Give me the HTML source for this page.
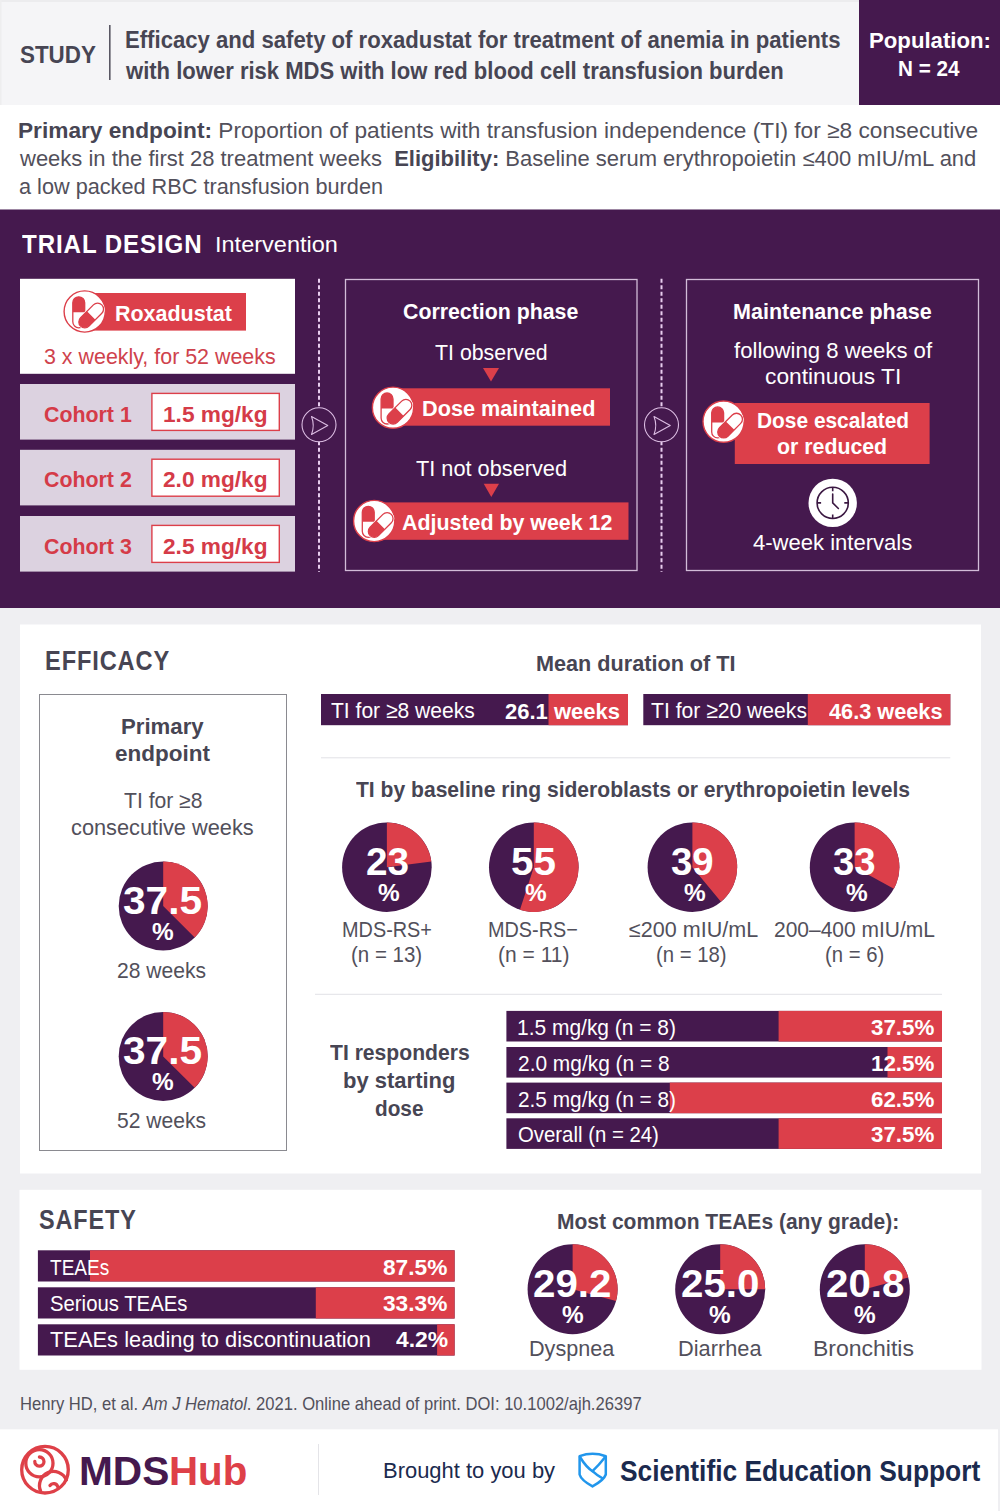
<!DOCTYPE html>
<html><head><meta charset="utf-8"><style>
html,body{margin:0;padding:0;}
body{width:1000px;height:1511px;overflow:hidden;position:relative;font-family:"Liberation Sans",sans-serif;background:#efeff2;}
svg.bg{position:absolute;left:0;top:0;}
.t{position:absolute;white-space:nowrap;line-height:1;transform-origin:0 0;}
.t b{font-weight:bold;}
</style></head><body>
<svg class="bg" width="1000" height="1511" viewBox="0 0 1000 1511"><rect x="0" y="0" width="1000" height="1511" fill="#efeff2"/><rect x="0" y="0" width="1000" height="105" fill="#f5f5f7"/><rect x="0" y="0" width="1000" height="2" fill="#ececee"/><rect x="0" y="0" width="1.5" height="209" fill="#eeeeef"/><rect x="859" y="0" width="141" height="105" fill="#45194e"/><rect x="109" y="25" width="1.6" height="55" fill="#5a5864"/><rect x="0" y="105" width="1000" height="104.5" fill="#ffffff"/><rect x="0" y="209.5" width="1000" height="398.5" fill="#45194e"/><rect x="20" y="278.8" width="275" height="95" fill="#ffffff"/><rect x="20" y="384" width="275" height="55.6" fill="#dcd2e0"/><rect x="151.9" y="393.4" width="127.4" height="37" fill="#fff" stroke="#dc3f4a" stroke-width="1.4"/><rect x="20" y="449.8" width="275" height="55.6" fill="#dcd2e0"/><rect x="151.9" y="459.2" width="127.4" height="37" fill="#fff" stroke="#dc3f4a" stroke-width="1.4"/><rect x="20" y="516" width="275" height="55.6" fill="#dcd2e0"/><rect x="151.9" y="525.4" width="127.4" height="37" fill="#fff" stroke="#dc3f4a" stroke-width="1.4"/><line x1="319" y1="278.8" x2="319" y2="572" stroke="#e8cdee" stroke-width="2" stroke-dasharray="4 2.5"/><circle cx="319" cy="424.8" r="17" fill="#45194e" stroke="#dcbde3" stroke-width="1.1"/><path d="M311.5 416.5 L327.75 425.5 L311.5 434.5 Q315 425.5 311.5 416.5 Z" fill="none" stroke="#dcbde3" stroke-width="1.1" stroke-linejoin="round"/><line x1="661.5" y1="278.8" x2="661.5" y2="572" stroke="#e8cdee" stroke-width="2" stroke-dasharray="4 2.5"/><circle cx="661.5" cy="424.8" r="17" fill="#45194e" stroke="#dcbde3" stroke-width="1.1"/><path d="M654.0 416.5 L670.25 425.5 L654.0 434.5 Q657.5 425.5 654.0 416.5 Z" fill="none" stroke="#dcbde3" stroke-width="1.1" stroke-linejoin="round"/><rect x="345.5" y="279.5" width="291.5" height="291" fill="none" stroke="#d2bcd8" stroke-width="1.3"/><rect x="686.5" y="279.5" width="292" height="291" fill="none" stroke="#d2bcd8" stroke-width="1.3"/><rect x="92" y="293" width="154" height="37.6" fill="#dc3f4a"/><g transform="translate(84.7 311.5) scale(1.0)"><circle r="20.6" fill="#fff" stroke="#dc3f4a" stroke-width="1.4"/><rect x="-11.9" y="-14.7" width="11.9" height="31" rx="5.95" fill="#fff" stroke="#dc3f4a" stroke-width="1.3"/><path d="M-11.9 0.8 V-8.75 A5.95 5.95 0 0 1 0 -8.75 V0.8 Z" fill="#dc3f4a"/><g transform="rotate(45 6.5 4)"><rect x="0.55" y="-11" width="11.9" height="30" rx="5.95" fill="#fff" stroke="#fff" stroke-width="2.6"/><rect x="0.55" y="-11" width="11.9" height="30" rx="5.95" fill="#fff" stroke="#dc3f4a" stroke-width="1.3"/><path d="M0.55 4 V13.05 A5.95 5.95 0 0 0 12.45 13.05 V4 Z" fill="#dc3f4a"/></g></g><polygon points="483,368 499,368 491,381.5" fill="#dc3f4a"/><rect x="393" y="388.3" width="217" height="37.4" fill="#dc3f4a"/><g transform="translate(393 407.7) scale(1.0)"><circle r="20.6" fill="#fff" stroke="#dc3f4a" stroke-width="1.4"/><rect x="-11.9" y="-14.7" width="11.9" height="31" rx="5.95" fill="#fff" stroke="#dc3f4a" stroke-width="1.3"/><path d="M-11.9 0.8 V-8.75 A5.95 5.95 0 0 1 0 -8.75 V0.8 Z" fill="#dc3f4a"/><g transform="rotate(45 6.5 4)"><rect x="0.55" y="-11" width="11.9" height="30" rx="5.95" fill="#fff" stroke="#fff" stroke-width="2.6"/><rect x="0.55" y="-11" width="11.9" height="30" rx="5.95" fill="#fff" stroke="#dc3f4a" stroke-width="1.3"/><path d="M0.55 4 V13.05 A5.95 5.95 0 0 0 12.45 13.05 V4 Z" fill="#dc3f4a"/></g></g><polygon points="483.7,483.7 499,483.7 491.3,497" fill="#dc3f4a"/><rect x="374" y="502.4" width="254.5" height="37.4" fill="#dc3f4a"/><g transform="translate(374.2 521) scale(1.0)"><circle r="20.6" fill="#fff" stroke="#dc3f4a" stroke-width="1.4"/><rect x="-11.9" y="-14.7" width="11.9" height="31" rx="5.95" fill="#fff" stroke="#dc3f4a" stroke-width="1.3"/><path d="M-11.9 0.8 V-8.75 A5.95 5.95 0 0 1 0 -8.75 V0.8 Z" fill="#dc3f4a"/><g transform="rotate(45 6.5 4)"><rect x="0.55" y="-11" width="11.9" height="30" rx="5.95" fill="#fff" stroke="#fff" stroke-width="2.6"/><rect x="0.55" y="-11" width="11.9" height="30" rx="5.95" fill="#fff" stroke="#dc3f4a" stroke-width="1.3"/><path d="M0.55 4 V13.05 A5.95 5.95 0 0 0 12.45 13.05 V4 Z" fill="#dc3f4a"/></g></g><rect x="734.8" y="403" width="194.8" height="61" fill="#dc3f4a"/><g transform="translate(723.6 421.6) scale(1.0)"><circle r="20.6" fill="#fff" stroke="#dc3f4a" stroke-width="1.4"/><rect x="-11.9" y="-14.7" width="11.9" height="31" rx="5.95" fill="#fff" stroke="#dc3f4a" stroke-width="1.3"/><path d="M-11.9 0.8 V-8.75 A5.95 5.95 0 0 1 0 -8.75 V0.8 Z" fill="#dc3f4a"/><g transform="rotate(45 6.5 4)"><rect x="0.55" y="-11" width="11.9" height="30" rx="5.95" fill="#fff" stroke="#fff" stroke-width="2.6"/><rect x="0.55" y="-11" width="11.9" height="30" rx="5.95" fill="#fff" stroke="#dc3f4a" stroke-width="1.3"/><path d="M0.55 4 V13.05 A5.95 5.95 0 0 0 12.45 13.05 V4 Z" fill="#dc3f4a"/></g></g><circle cx="832.7" cy="502.9" r="24.2" fill="#fff"/><circle cx="832.7" cy="502.9" r="15.6" fill="none" stroke="#3b1842" stroke-width="1.6"/><path d="M832.7 487.3 v4 M832.7 518.5 v-4 M817.1 502.9 h4 M848.3 502.9 h-4" stroke="#3b1842" stroke-width="1.6"/><path d="M832.7 494 V502.9 L838.4 508.5" fill="none" stroke="#3b1842" stroke-width="1.6" stroke-linecap="round"/><rect x="20" y="624.5" width="961" height="549" fill="#fff"/><rect x="39.5" y="694.5" width="247" height="456" fill="none" stroke="#8a8a90" stroke-width="1"/><circle cx="163.2" cy="906" r="44.5" fill="#45194e"/><path d="M163.2 906 L163.2 861.5 A44.5 44.5 0 0 1 194.67 937.47 Z" fill="#dc3f4a"/><circle cx="163.2" cy="1056.4" r="44.5" fill="#45194e"/><path d="M163.2 1056.4 L163.2 1011.9000000000001 A44.5 44.5 0 0 1 194.67 1087.87 Z" fill="#dc3f4a"/><rect x="321" y="694" width="307" height="31.2" fill="#45194e"/><rect x="548.5" y="694" width="79.5" height="31.2" fill="#dc3f4a"/><rect x="643.3" y="694" width="307" height="31.2" fill="#45194e"/><rect x="807.8" y="694" width="142.5" height="31.2" fill="#dc3f4a"/><rect x="321" y="757.3" width="629.3" height="1" fill="#e2e2e6"/><circle cx="386.9" cy="867.2" r="44.8" fill="#45194e"/><path d="M386.9 867.2 L386.9 822.4000000000001 A44.8 44.8 0 0 1 431.35 861.59 Z" fill="#dc3f4a"/><circle cx="533.8" cy="867.2" r="44.8" fill="#45194e"/><path d="M533.8 867.2 L533.8 822.4000000000001 A44.8 44.8 0 1 1 519.96 909.81 Z" fill="#dc3f4a"/><circle cx="692.4" cy="867.2" r="44.8" fill="#45194e"/><path d="M692.4 867.2 L692.4 822.4000000000001 A44.8 44.8 0 0 1 720.96 901.72 Z" fill="#dc3f4a"/><circle cx="854.6" cy="867.2" r="44.8" fill="#45194e"/><path d="M854.6 867.2 L854.6 822.4000000000001 A44.8 44.8 0 0 1 893.86 888.78 Z" fill="#dc3f4a"/><rect x="315" y="993.8" width="627" height="1" fill="#e2e2e6"/><rect x="506.4" y="1010.9" width="435.6" height="30.6" fill="#45194e"/><rect x="778.6" y="1010.9" width="163.4" height="30.6" fill="#dc3f4a"/><rect x="506.4" y="1047.0" width="435.6" height="30.6" fill="#45194e"/><rect x="887.5" y="1047.0" width="54.5" height="30.6" fill="#dc3f4a"/><rect x="506.4" y="1082.6" width="435.6" height="30.6" fill="#45194e"/><rect x="669.8" y="1082.6" width="272.2" height="30.6" fill="#dc3f4a"/><rect x="506.4" y="1118.3" width="435.6" height="30.6" fill="#45194e"/><rect x="778.6" y="1118.3" width="163.4" height="30.6" fill="#dc3f4a"/><rect x="19.5" y="1189.8" width="962" height="180" fill="#fff"/><rect x="37.9" y="1250.3" width="416.7" height="31.2" fill="#45194e"/><rect x="90.0" y="1250.3" width="364.6" height="31.2" fill="#dc3f4a"/><rect x="37.9" y="1287.3" width="416.7" height="31.2" fill="#45194e"/><rect x="315.8" y="1287.3" width="138.8" height="31.2" fill="#dc3f4a"/><rect x="37.9" y="1324.3" width="416.7" height="31.2" fill="#45194e"/><rect x="437.1" y="1324.3" width="17.5" height="31.2" fill="#dc3f4a"/><circle cx="572.6" cy="1289.2" r="45" fill="#45194e"/><path d="M572.6 1289.2 L572.6 1244.2 A45 45 0 0 1 616.04 1300.94 Z" fill="#dc3f4a"/><circle cx="720.2" cy="1289.2" r="45" fill="#45194e"/><path d="M720.2 1289.2 L720.2 1244.2 A45 45 0 0 1 765.20 1289.20 Z" fill="#dc3f4a"/><circle cx="864.8" cy="1289.2" r="45" fill="#45194e"/><path d="M864.8 1289.2 L864.8 1244.2 A45 45 0 0 1 908.24 1277.46 Z" fill="#dc3f4a"/><rect x="0" y="1429.3" width="998" height="81.7" fill="#fff"/><rect x="318" y="1444" width="1" height="51" fill="#e4e4e8"/><g fill="none" stroke="#de4048" stroke-width="3.3" stroke-linecap="round"><circle cx="45" cy="1469.7" r="23.3"/><circle cx="39.4" cy="1463.3" r="13.6"/><path d="M34.8 1461.3 A4.6 4.6 0 1 0 39.4 1457"/><path d="M40.6 1491 A13 13 0 0 1 66.4 1480"/><path d="M50 1485.5 A4.3 4.3 0 0 1 57.8 1487"/></g><g fill="none" stroke="#2196ec" stroke-width="2.5" stroke-linejoin="round" stroke-linecap="round"><path d="M579.6 1456.2 Q592.5 1451.5 605.8 1456.2 V1474.5 Q604 1480 592.5 1486.4 Q581 1480 579.6 1474.5 Z"/><path d="M580 1457 Q586 1467 592.5 1471.2 Q597 1475.5 602.6 1478.3"/><path d="M604.8 1457.5 Q599 1465 592.5 1471.2"/></g></svg>
<div id="t0" class="t" style="left:20.03px;top:43.85px;font-size:23.0px;font-weight:bold;color:#474553;transform:scaleX(0.9737);">STUDY</div>
<div id="t1" class="t" style="left:124.79px;top:29.17px;font-size:23.09px;font-weight:bold;color:#474553;transform:scaleX(0.9587);">Efficacy and safety of roxadustat for treatment of anemia in patients</div>
<div id="t2" class="t" style="left:125.75px;top:59.67px;font-size:23.09px;font-weight:bold;color:#474553;transform:scaleX(0.9552);">with lower risk MDS with low red blood cell transfusion burden</div>
<div id="t3" class="t" style="left:869.01px;top:29.69px;font-size:22.36px;font-weight:bold;color:#ffffff;transform:scaleX(0.9917);">Population:</div>
<div id="t4" class="t" style="left:898.08px;top:57.69px;font-size:22.36px;font-weight:bold;color:#ffffff;transform:scaleX(0.9242);">N = 24</div>
<div id="t5" class="t" style="left:17.97px;top:120.00px;font-size:22.35px;font-weight:normal;color:#52505b;transform:scaleX(1.0148);"><b style="color:#474553">Primary endpoint:</b> Proportion of patients with transfusion independence (TI) for ≥8 consecutive</div>
<div id="t6" class="t" style="left:20.00px;top:148.00px;font-size:22.35px;font-weight:normal;color:#52505b;transform:scaleX(0.9845);">weeks in the first 28 treatment weeks&nbsp; <b style="color:#474553">Eligibility:</b> Baseline serum erythropoietin ≤400 mIU/mL and</div>
<div id="t7" class="t" style="left:19.03px;top:175.50px;font-size:22.35px;font-weight:normal;color:#52505b;transform:scaleX(0.9705);">a low packed RBC transfusion burden</div>
<div id="t8" class="t" style="left:21.70px;top:230.67px;font-size:26.5px;font-weight:bold;color:#ffffff;transform:scaleX(0.9097);letter-spacing:1px;">TRIAL DESIGN</div>
<div id="t9" class="t" style="left:214.89px;top:234.00px;font-size:22.35px;font-weight:normal;color:#ffffff;transform:scaleX(1.0531);">Intervention</div>
<div id="t10" class="t" style="left:114.54px;top:303.04px;font-size:22.31px;font-weight:bold;color:#ffffff;transform:scaleX(0.9625);">Roxadustat</div>
<div id="t11" class="t" style="left:43.84px;top:345.60px;font-size:22.35px;font-weight:normal;color:#cf424c;transform:scaleX(0.9583);">3 x weekly, for 52 weeks</div>
<div id="t12" class="t" style="left:43.82px;top:403.52px;font-size:21.74px;font-weight:bold;color:#d53b48;transform:scaleX(0.9824);">Cohort 1</div>
<div id="t13" class="t" style="left:163.46px;top:403.52px;font-size:21.74px;font-weight:bold;color:#d53b48;transform:scaleX(1.0429);">1.5 mg/kg</div>
<div id="t14" class="t" style="left:43.82px;top:469.32px;font-size:21.74px;font-weight:bold;color:#d53b48;transform:scaleX(0.9824);">Cohort 2</div>
<div id="t15" class="t" style="left:163.46px;top:469.32px;font-size:21.74px;font-weight:bold;color:#d53b48;transform:scaleX(1.0429);">2.0 mg/kg</div>
<div id="t16" class="t" style="left:43.82px;top:535.52px;font-size:21.74px;font-weight:bold;color:#d53b48;transform:scaleX(0.9824);">Cohort 3</div>
<div id="t17" class="t" style="left:163.46px;top:535.52px;font-size:21.74px;font-weight:bold;color:#d53b48;transform:scaleX(1.0429);">2.5 mg/kg</div>
<div id="t18" class="t" style="left:403.04px;top:300.84px;font-size:22.31px;font-weight:bold;color:#ffffff;transform:scaleX(0.9560);">Correction phase</div>
<div id="t19" class="t" style="left:435.40px;top:342.47px;font-size:21.8px;font-weight:normal;color:#ffffff;transform:scaleX(0.9789);">TI observed</div>
<div id="t20" class="t" style="left:421.52px;top:397.96px;font-size:22.05px;font-weight:bold;color:#ffffff;transform:scaleX(0.9828);">Dose maintained</div>
<div id="t21" class="t" style="left:416.00px;top:458.47px;font-size:21.8px;font-weight:normal;color:#ffffff;transform:scaleX(0.9973);">TI not observed</div>
<div id="t22" class="t" style="left:402.04px;top:512.14px;font-size:22.31px;font-weight:bold;color:#ffffff;transform:scaleX(0.9587);">Adjusted by week 12</div>
<div id="t23" class="t" style="left:733.03px;top:300.84px;font-size:22.31px;font-weight:bold;color:#ffffff;transform:scaleX(0.9657);">Maintenance phase</div>
<div id="t24" class="t" style="left:734.00px;top:340.17px;font-size:21.8px;font-weight:normal;color:#ffffff;transform:scaleX(1.0154);">following 8 weeks of</div>
<div id="t25" class="t" style="left:764.96px;top:365.67px;font-size:21.8px;font-weight:normal;color:#ffffff;transform:scaleX(1.0445);">continuous TI</div>
<div id="t26" class="t" style="left:756.66px;top:409.94px;font-size:22.31px;font-weight:bold;color:#ffffff;transform:scaleX(0.9369);">Dose escalated</div>
<div id="t27" class="t" style="left:777.04px;top:435.54px;font-size:22.31px;font-weight:bold;color:#ffffff;transform:scaleX(0.9558);">or reduced</div>
<div id="t28" class="t" style="left:752.80px;top:532.27px;font-size:21.8px;font-weight:normal;color:#ffffff;transform:scaleX(1.0115);">4-week intervals</div>
<div id="t29" class="t" style="left:44.64px;top:648.02px;font-size:26.8px;font-weight:bold;color:#474553;transform:scaleX(0.8812);letter-spacing:1px;">EFFICACY</div>
<div id="t30" class="t" style="left:120.60px;top:716.34px;font-size:22.31px;font-weight:bold;color:#474553;transform:scaleX(0.9951);">Primary</div>
<div id="t31" class="t" style="left:114.79px;top:742.54px;font-size:22.31px;font-weight:bold;color:#474553;transform:scaleX(1.0086);">endpoint</div>
<div id="t32" class="t" style="left:124.00px;top:790.47px;font-size:21.8px;font-weight:normal;color:#52505b;transform:scaleX(0.9700);">TI for ≥8</div>
<div id="t33" class="t" style="left:71.00px;top:816.67px;font-size:21.8px;font-weight:normal;color:#52505b;transform:scaleX(0.9989);">consecutive weeks</div>
<div id="t34" class="t" style="left:122.95px;top:882.27px;font-size:38.5px;font-weight:bold;color:#ffffff;transform:scaleX(1.0548);">37.5</div>
<div id="t35" class="t" style="left:151.96px;top:921.11px;font-size:23.4px;font-weight:bold;color:#ffffff;transform:scaleX(1.0421);">%</div>
<div id="t36" class="t" style="left:122.95px;top:1032.08px;font-size:38.5px;font-weight:bold;color:#ffffff;transform:scaleX(1.0548);">37.5</div>
<div id="t37" class="t" style="left:151.96px;top:1070.91px;font-size:23.4px;font-weight:bold;color:#ffffff;transform:scaleX(1.0421);">%</div>
<div id="t38" class="t" style="left:117.43px;top:960.47px;font-size:21.8px;font-weight:normal;color:#52505b;transform:scaleX(0.9670);">28 weeks</div>
<div id="t39" class="t" style="left:117.43px;top:1110.27px;font-size:21.8px;font-weight:normal;color:#52505b;transform:scaleX(0.9670);">52 weeks</div>
<div id="t40" class="t" style="left:536.33px;top:653.04px;font-size:22.31px;font-weight:bold;color:#474553;transform:scaleX(0.9704);">Mean duration of TI</div>
<div id="t41" class="t" style="left:330.80px;top:700.20px;font-size:22.35px;font-weight:normal;color:#ffffff;transform:scaleX(0.9421);">TI for ≥8 weeks</div>
<div id="t42" class="t" style="left:504.81px;top:700.74px;font-size:22.31px;font-weight:bold;color:#ffffff;transform:scaleX(0.9861);">26.1 weeks</div>
<div id="t43" class="t" style="left:651.00px;top:700.20px;font-size:22.35px;font-weight:normal;color:#ffffff;transform:scaleX(0.9451);">TI for ≥20 weeks</div>
<div id="t44" class="t" style="left:828.50px;top:700.74px;font-size:22.31px;font-weight:bold;color:#ffffff;transform:scaleX(0.9741);">46.3 weeks</div>
<div id="t45" class="t" style="left:356.00px;top:778.94px;font-size:22.31px;font-weight:bold;color:#474553;transform:scaleX(0.9453);">TI by baseline ring sideroblasts or erythropoietin levels</div>
<div id="t46" class="t" style="left:365.80px;top:843.27px;font-size:38.5px;font-weight:bold;color:#ffffff;transform:scaleX(1.0049);">23</div>
<div id="t47" class="t" style="left:378.36px;top:882.31px;font-size:23.4px;font-weight:bold;color:#ffffff;transform:scaleX(1.0421);">%</div>
<div id="t48" class="t" style="left:510.95px;top:843.27px;font-size:38.5px;font-weight:bold;color:#ffffff;transform:scaleX(1.0488);">55</div>
<div id="t49" class="t" style="left:525.26px;top:882.31px;font-size:23.4px;font-weight:bold;color:#ffffff;transform:scaleX(1.0421);">%</div>
<div id="t50" class="t" style="left:670.70px;top:843.27px;font-size:38.5px;font-weight:bold;color:#ffffff;transform:scaleX(0.9951);">39</div>
<div id="t51" class="t" style="left:683.86px;top:882.31px;font-size:23.4px;font-weight:bold;color:#ffffff;transform:scaleX(1.0421);">%</div>
<div id="t52" class="t" style="left:832.50px;top:843.27px;font-size:38.5px;font-weight:bold;color:#ffffff;transform:scaleX(0.9951);">33</div>
<div id="t53" class="t" style="left:846.06px;top:882.31px;font-size:23.4px;font-weight:bold;color:#ffffff;transform:scaleX(1.0421);">%</div>
<div id="t54" class="t" style="left:342.18px;top:919.17px;font-size:21.8px;font-weight:normal;color:#52505b;transform:scaleX(0.9115);">MDS-RS+</div>
<div id="t55" class="t" style="left:488.08px;top:919.17px;font-size:21.8px;font-weight:normal;color:#52505b;transform:scaleX(0.9104);">MDS-RS−</div>
<div id="t56" class="t" style="left:628.50px;top:919.17px;font-size:21.8px;font-weight:normal;color:#52505b;transform:scaleX(0.9885);">≤200 mIU/mL</div>
<div id="t57" class="t" style="left:773.74px;top:919.17px;font-size:21.8px;font-weight:normal;color:#52505b;transform:scaleX(0.9627);">200–400 mIU/mL</div>
<div id="t58" class="t" style="left:351.06px;top:943.87px;font-size:21.8px;font-weight:normal;color:#52505b;transform:scaleX(0.9392);">(n = 13)</div>
<div id="t59" class="t" style="left:498.04px;top:943.87px;font-size:21.8px;font-weight:normal;color:#52505b;transform:scaleX(0.9639);">(n = 11)</div>
<div id="t60" class="t" style="left:656.47px;top:943.87px;font-size:21.8px;font-weight:normal;color:#52505b;transform:scaleX(0.9324);">(n = 18)</div>
<div id="t61" class="t" style="left:824.77px;top:943.87px;font-size:21.8px;font-weight:normal;color:#52505b;transform:scaleX(0.9311);">(n = 6)</div>
<div id="t62" class="t" style="left:330.00px;top:1042.04px;font-size:22.31px;font-weight:bold;color:#474553;transform:scaleX(0.9476);">TI responders</div>
<div id="t63" class="t" style="left:343.21px;top:1070.24px;font-size:22.31px;font-weight:bold;color:#474553;transform:scaleX(0.9866);">by starting</div>
<div id="t64" class="t" style="left:374.57px;top:1097.54px;font-size:22.31px;font-weight:bold;color:#474553;transform:scaleX(0.9314);">dose</div>
<div id="t65" class="t" style="left:517.42px;top:1017.00px;font-size:22.35px;font-weight:normal;color:#ffffff;transform:scaleX(0.9380);">1.5 mg/kg (n = 8)</div>
<div id="t66" class="t" style="left:871.15px;top:1017.88px;font-size:21.32px;font-weight:bold;color:#ffffff;transform:scaleX(1.0475);">37.5%</div>
<div id="t67" class="t" style="left:518.36px;top:1053.10px;font-size:22.35px;font-weight:normal;color:#ffffff;transform:scaleX(0.9356);">2.0 mg/kg (n = 8</div>
<div id="t68" class="t" style="left:871.15px;top:1053.98px;font-size:21.32px;font-weight:bold;color:#ffffff;transform:scaleX(1.0475);">12.5%</div>
<div id="t69" class="t" style="left:518.37px;top:1088.70px;font-size:22.35px;font-weight:normal;color:#ffffff;transform:scaleX(0.9323);">2.5 mg/kg (n = 8)</div>
<div id="t70" class="t" style="left:871.15px;top:1089.58px;font-size:21.32px;font-weight:bold;color:#ffffff;transform:scaleX(1.0475);">62.5%</div>
<div id="t71" class="t" style="left:518.39px;top:1124.40px;font-size:22.35px;font-weight:normal;color:#ffffff;transform:scaleX(0.9111);">Overall (n = 24)</div>
<div id="t72" class="t" style="left:871.15px;top:1125.28px;font-size:21.32px;font-weight:bold;color:#ffffff;transform:scaleX(1.0475);">37.5%</div>
<div id="t73" class="t" style="left:39.32px;top:1206.82px;font-size:26.8px;font-weight:bold;color:#474553;transform:scaleX(0.8752);letter-spacing:1px;">SAFETY</div>
<div id="t74" class="t" style="left:50.40px;top:1255.84px;font-size:22.89px;font-weight:normal;color:#ffffff;transform:scaleX(0.8324);">TEAEs</div>
<div id="t75" class="t" style="left:382.96px;top:1256.74px;font-size:21.84px;font-weight:bold;color:#ffffff;transform:scaleX(1.0393);">87.5%</div>
<div id="t76" class="t" style="left:49.51px;top:1291.84px;font-size:22.89px;font-weight:normal;color:#ffffff;transform:scaleX(0.8882);">Serious TEAEs</div>
<div id="t77" class="t" style="left:382.96px;top:1292.74px;font-size:21.84px;font-weight:bold;color:#ffffff;transform:scaleX(1.0393);">33.3%</div>
<div id="t78" class="t" style="left:50.40px;top:1327.84px;font-size:22.89px;font-weight:normal;color:#ffffff;transform:scaleX(0.9560);">TEAEs leading to discontinuation</div>
<div id="t79" class="t" style="left:396.00px;top:1328.74px;font-size:21.84px;font-weight:bold;color:#ffffff;transform:scaleX(1.0490);">4.2%</div>
<div id="t80" class="t" style="left:557.26px;top:1211.04px;font-size:22.31px;font-weight:bold;color:#474553;transform:scaleX(0.9428);">Most common TEAEs (any grade):</div>
<div id="t81" class="t" style="left:533.35px;top:1265.28px;font-size:38.5px;font-weight:bold;color:#ffffff;transform:scaleX(1.0466);">29.2</div>
<div id="t82" class="t" style="left:561.66px;top:1304.11px;font-size:23.4px;font-weight:bold;color:#ffffff;transform:scaleX(1.0421);">%</div>
<div id="t83" class="t" style="left:529.07px;top:1337.80px;font-size:22.35px;font-weight:normal;color:#52505b;transform:scaleX(0.9674);">Dyspnea</div>
<div id="t84" class="t" style="left:680.95px;top:1265.28px;font-size:38.5px;font-weight:bold;color:#ffffff;transform:scaleX(1.0466);">25.0</div>
<div id="t85" class="t" style="left:709.26px;top:1304.11px;font-size:23.4px;font-weight:bold;color:#ffffff;transform:scaleX(1.0421);">%</div>
<div id="t86" class="t" style="left:678.05px;top:1337.80px;font-size:22.35px;font-weight:normal;color:#52505b;transform:scaleX(0.9750);">Diarrhea</div>
<div id="t87" class="t" style="left:825.55px;top:1265.28px;font-size:38.5px;font-weight:bold;color:#ffffff;transform:scaleX(1.0466);">20.8</div>
<div id="t88" class="t" style="left:853.86px;top:1304.11px;font-size:23.4px;font-weight:bold;color:#ffffff;transform:scaleX(1.0421);">%</div>
<div id="t89" class="t" style="left:813.34px;top:1337.80px;font-size:22.35px;font-weight:normal;color:#52505b;transform:scaleX(1.0292);">Bronchitis</div>
<div id="t90" class="t" style="left:19.73px;top:1393.90px;font-size:19.18px;font-weight:normal;color:#52505b;transform:scaleX(0.8654);">Henry HD, et al. <i>Am J Hematol</i>. 2021. Online ahead of print. DOI: 10.1002/ajh.26397</div>
<div id="t91" class="t" style="left:78.55px;top:1450.60px;font-size:40px;font-weight:bold;color:#45194e;transform:scaleX(1.0165);">MDS</div>
<div id="t92" class="t" style="left:168.98px;top:1450.60px;font-size:40px;font-weight:bold;color:#de4048;transform:scaleX(1.0068);">Hub</div>
<div id="t93" class="t" style="left:383.39px;top:1460.27px;font-size:21.8px;font-weight:normal;color:#1b2a4e;transform:scaleX(1.0071);">Brought to you by</div>
<div id="t94" class="t" style="left:620.29px;top:1457.35px;font-size:29px;font-weight:bold;color:#1b2a4e;transform:scaleX(0.9089);">Scientific Education Support</div>
</body></html>
